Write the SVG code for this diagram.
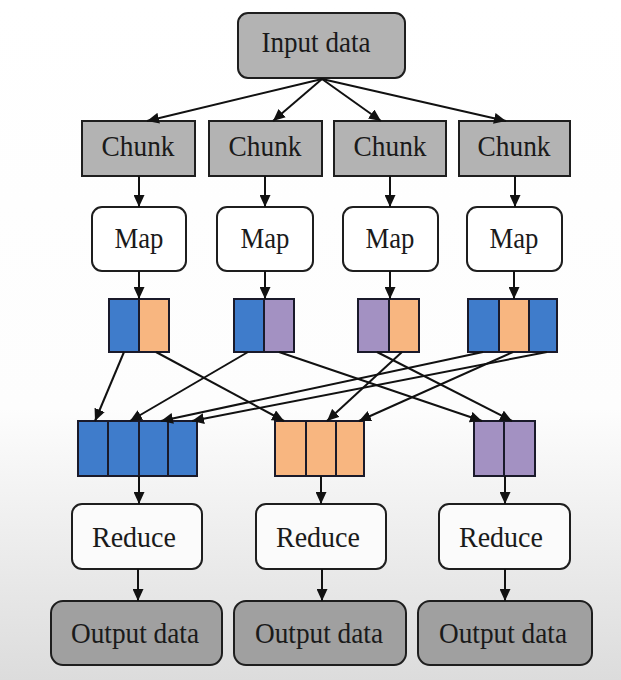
<svg xmlns="http://www.w3.org/2000/svg" width="621" height="680" viewBox="0 0 621 680">
<defs>
<linearGradient id="bg" x1="0" y1="0" x2="0" y2="1">
<stop offset="0" stop-color="#ffffff"/>
<stop offset="0.6" stop-color="#fdfdfd"/>
<stop offset="1" stop-color="#dcdcdc"/>
</linearGradient>
<marker id="ah" markerUnits="userSpaceOnUse" markerWidth="12" markerHeight="11" viewBox="0 0 12 11" refX="12" refY="5.5" orient="auto">
<path d="M0,0 L12,5.5 L0,11 Z" fill="#111"/>
</marker>
<style>
.box{stroke:#1e1e1e;stroke-width:2}
.gray{fill:#b3b3b3}
.dark{fill:#a0a0a0}
.white{fill:#ffffff}
.light{fill:#fbfbfb}
.blue{fill:#3f7ccb;stroke:#1a1a2a;stroke-width:2}
.orange{fill:#f8b680;stroke:#1a1a2a;stroke-width:2}
.purple{fill:#a391c2;stroke:#1a1a2a;stroke-width:2}
.lbl{font-family:"Liberation Serif","Times New Roman",serif;font-size:29px;fill:#1a1a1a;text-anchor:middle}
.con line{stroke:#111;stroke-width:2;marker-end:url(#ah)}
</style>
</defs>
<rect x="0" y="0" width="621" height="680" fill="url(#bg)"/>

<g id="input">
<rect class="box gray" x="238" y="13" width="167" height="65" rx="10"/>
<text class="lbl" x="316" y="52" textLength="109" lengthAdjust="spacingAndGlyphs">Input data</text>
</g>

<g id="chunk1"><rect class="box gray" x="82" y="121" width="113" height="55"/><text class="lbl" x="138" y="156" textLength="73" lengthAdjust="spacingAndGlyphs">Chunk</text></g>
<g id="chunk2"><rect class="box gray" x="209" y="121" width="113" height="55"/><text class="lbl" x="265" y="156" textLength="73" lengthAdjust="spacingAndGlyphs">Chunk</text></g>
<g id="chunk3"><rect class="box gray" x="334" y="121" width="112" height="55"/><text class="lbl" x="390" y="156" textLength="73" lengthAdjust="spacingAndGlyphs">Chunk</text></g>
<g id="chunk4"><rect class="box gray" x="459" y="121" width="111" height="55"/><text class="lbl" x="514" y="156" textLength="73" lengthAdjust="spacingAndGlyphs">Chunk</text></g>

<g id="map1"><rect class="box white" x="92" y="207" width="94" height="64" rx="10"/><text class="lbl" x="139" y="248" textLength="49" lengthAdjust="spacingAndGlyphs">Map</text></g>
<g id="map2"><rect class="box white" x="217" y="207" width="96" height="64" rx="10"/><text class="lbl" x="265" y="248" textLength="49" lengthAdjust="spacingAndGlyphs">Map</text></g>
<g id="map3"><rect class="box white" x="343" y="207" width="95" height="64" rx="10"/><text class="lbl" x="390" y="248" textLength="49" lengthAdjust="spacingAndGlyphs">Map</text></g>
<g id="map4"><rect class="box white" x="467" y="207" width="95" height="64" rx="10"/><text class="lbl" x="514" y="248" textLength="49" lengthAdjust="spacingAndGlyphs">Map</text></g>

<g id="out1">
<rect class="blue" x="109" y="299" width="30" height="53"/><rect class="orange" x="139" y="299" width="30" height="53"/>
</g>
<g id="out2">
<rect class="blue" x="234" y="299" width="30" height="53"/><rect class="purple" x="264" y="299" width="30" height="53"/>
</g>
<g id="out3">
<rect class="purple" x="358" y="299" width="31" height="53"/><rect class="orange" x="389" y="299" width="30" height="53"/>
</g>
<g id="out4">
<rect class="blue" x="468" y="299" width="31" height="53"/><rect class="orange" x="499" y="299" width="30" height="53"/><rect class="blue" x="529" y="299" width="28" height="53"/>
</g>

<g id="groupBlue">
<rect class="blue" x="78" y="421" width="30" height="55"/><rect class="blue" x="108" y="421" width="31" height="55"/><rect class="blue" x="139" y="421" width="29" height="55"/><rect class="blue" x="168" y="421" width="29" height="55"/>
</g>
<g id="groupOrange">
<rect class="orange" x="275" y="421" width="31" height="55"/><rect class="orange" x="306" y="421" width="30" height="55"/><rect class="orange" x="336" y="421" width="28" height="55"/>
</g>
<g id="groupPurple">
<rect class="purple" x="474" y="421" width="30" height="55"/><rect class="purple" x="504" y="421" width="31" height="55"/>
</g>

<g id="reduce1"><rect class="box light" x="72" y="504" width="130" height="65" rx="10"/><text class="lbl" x="134" y="547" textLength="84" lengthAdjust="spacingAndGlyphs">Reduce</text></g>
<g id="reduce2"><rect class="box light" x="256" y="504" width="130" height="65" rx="10"/><text class="lbl" x="318" y="547" textLength="84" lengthAdjust="spacingAndGlyphs">Reduce</text></g>
<g id="reduce3"><rect class="box light" x="439" y="504" width="131" height="65" rx="10"/><text class="lbl" x="501" y="547" textLength="84" lengthAdjust="spacingAndGlyphs">Reduce</text></g>

<g id="output1"><rect class="box dark" x="51" y="601" width="171" height="64" rx="12"/><text class="lbl" x="135" y="643" textLength="128" lengthAdjust="spacingAndGlyphs">Output data</text></g>
<g id="output2"><rect class="box dark" x="234" y="601" width="172" height="64" rx="12"/><text class="lbl" x="319" y="643" textLength="128" lengthAdjust="spacingAndGlyphs">Output data</text></g>
<g id="output3"><rect class="box dark" x="418" y="601" width="174" height="64" rx="12"/><text class="lbl" x="503" y="643" textLength="128" lengthAdjust="spacingAndGlyphs">Output data</text></g>

<g id="connectors" class="con">
<line x1="322" y1="79" x2="147" y2="121"/>
<line x1="322" y1="79" x2="273" y2="121"/>
<line x1="322" y1="79" x2="381" y2="121"/>
<line x1="322" y1="79" x2="506" y2="121"/>
<line x1="139" y1="176" x2="139" y2="207"/>
<line x1="265" y1="176" x2="265" y2="207"/>
<line x1="390" y1="176" x2="390" y2="207"/>
<line x1="515" y1="176" x2="515" y2="207"/>
<line x1="139" y1="271" x2="139" y2="299"/>
<line x1="265" y1="271" x2="265" y2="299"/>
<line x1="390" y1="271" x2="390" y2="299"/>
<line x1="514" y1="271" x2="514" y2="299"/>
<line x1="124" y1="352" x2="95" y2="421"/>
<line x1="156" y1="352" x2="284" y2="421"/>
<line x1="248" y1="352" x2="130" y2="421"/>
<line x1="279" y1="352" x2="482" y2="421"/>
<line x1="377" y1="352" x2="512" y2="421"/>
<line x1="402" y1="352" x2="327" y2="421"/>
<line x1="483" y1="352" x2="161" y2="421"/>
<line x1="513" y1="352" x2="359" y2="421"/>
<line x1="547" y1="352" x2="192" y2="421"/>
<line x1="139" y1="476" x2="139" y2="504"/>
<line x1="321" y1="476" x2="321" y2="504"/>
<line x1="505" y1="476" x2="505" y2="504"/>
<line x1="138" y1="569" x2="138" y2="601"/>
<line x1="322" y1="569" x2="322" y2="601"/>
<line x1="505" y1="569" x2="505" y2="601"/>
</g>
</svg>
